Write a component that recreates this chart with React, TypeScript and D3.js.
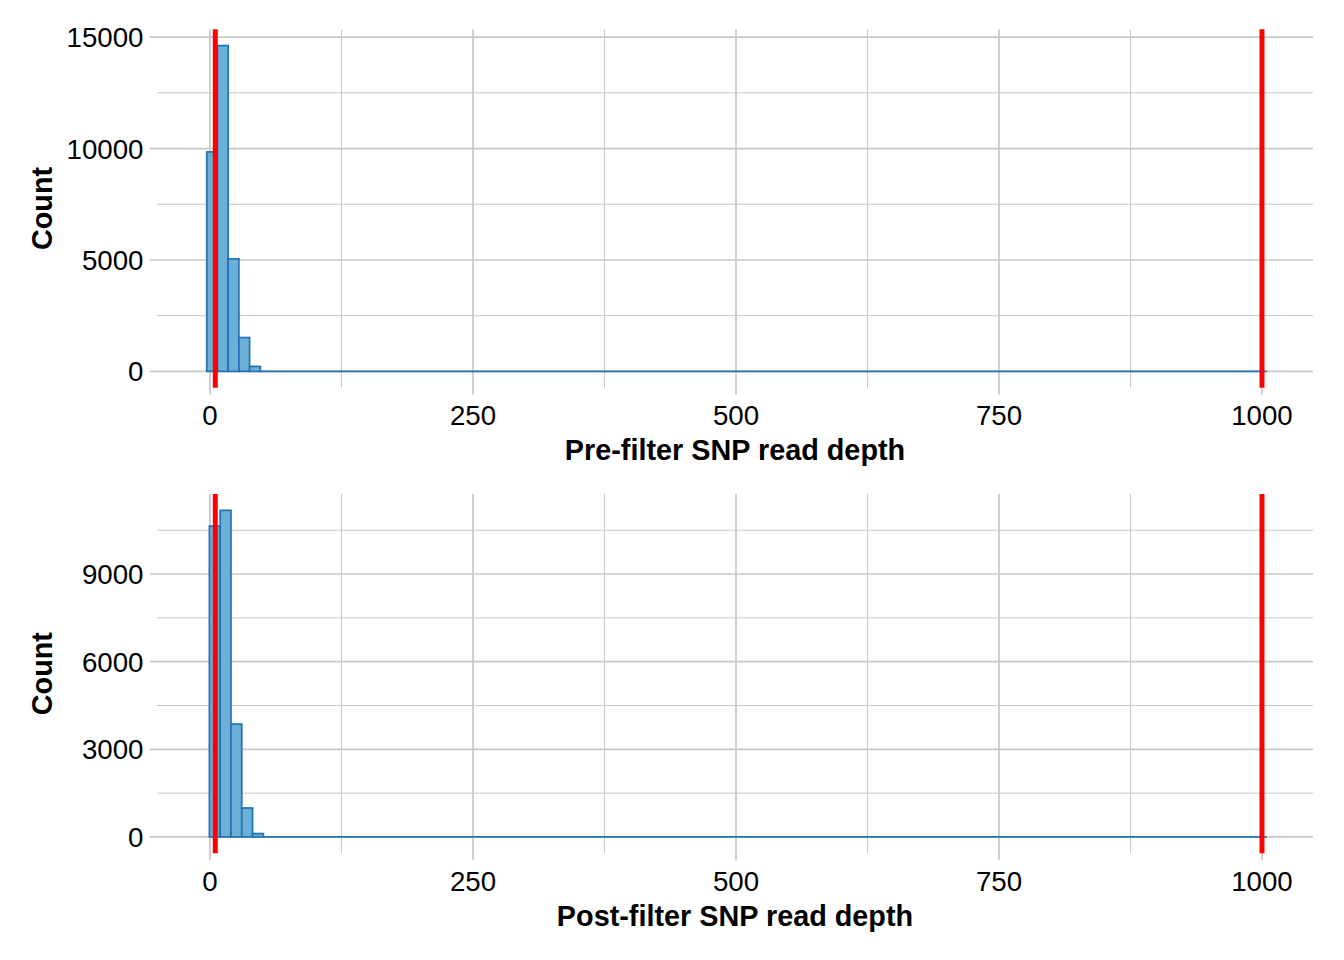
import React from "react";
import * as d3 from "d3";

// ---- Data ----
const preBinStart = -3.1;
const preBinWidth = 10.18;
const preCounts = [9850, 14620, 5050, 1520, 225];
const postBinStart = -0.6;
const postBinWidth = 10.26;
const postCounts = [10640, 11180, 3866, 992, 116];
const zeroBinsEnd = 1004.5; // zero-count bins continue to here
const cutoffs = [5, 1000];
const xMajorTicks = [0, 250, 500, 750, 1000];
const xMinorTicks = [125, 375, 625, 875];
const preYMajor = [0, 5000, 10000, 15000];
const preYMinor = [2500, 7500, 12500];
const postYMajor = [0, 3000, 6000, 9000];
const postYMinor = [1500, 4500, 7500, 10500];
const preTitle = "Pre-filter SNP read depth";
const postTitle = "Post-filter SNP read depth";
const yTitle = "Count";

const FONT = "'Liberation Sans', Arial, Helvetica, sans-serif";
const GRID = "#c8c8c8";
const FILL = "#6baed6";
const STROKE = "#2171b5";

const left = 157;
const right = 1313;
const x = d3.scaleLinear().domain([-50.4, 1048.5]).range([left, right]);

type PanelProps = {
  top: number;
  bottom: number;
  binStart: number;
  binWidth: number;
  counts: number[];
  yMajor: number[];
  yMinor: number[];
  title: string;
};

function Panel({ top, bottom, binStart, binWidth, counts, yMajor, yMinor, title }: PanelProps) {
  const maxC = d3.max(counts) as number;
  const y = d3.scaleLinear().domain([-0.05 * maxC, 1.05 * maxC]).range([bottom, top]);
  const lastEdge = binStart + counts.length * binWidth;
  const cy = (top + bottom) / 2;
  return (
    <g>
      {/* minor grid */}
      {yMinor.map((v) => (
        <line key={"ym" + v} x1={left} x2={right} y1={y(v)} y2={y(v)} stroke={GRID} strokeWidth={1} />
      ))}
      {xMinorTicks.map((v) => (
        <line key={"xm" + v} x1={x(v)} x2={x(v)} y1={top} y2={bottom} stroke={GRID} strokeWidth={1} />
      ))}
      {/* major grid */}
      {yMajor.map((v) => (
        <line key={"yM" + v} x1={left - 7} x2={right} y1={y(v)} y2={y(v)} stroke={GRID} strokeWidth={1.7} />
      ))}
      {xMajorTicks.map((v) => (
        <line key={"xM" + v} x1={x(v)} x2={x(v)} y1={top} y2={bottom + 7} stroke={GRID} strokeWidth={1.7} />
      ))}
      {/* zero-count bins */}
      <line x1={x(lastEdge)} x2={x(zeroBinsEnd)} y1={y(0)} y2={y(0)} stroke={STROKE} strokeWidth={1.7} />
      {/* bars */}
      {counts.map((c, i) => {
        const x0 = binStart + i * binWidth;
        const x1 = x0 + binWidth;
        return (
          <rect
            key={i}
            x={x(x0)}
            y={y(c)}
            width={x(x1) - x(x0)}
            height={y(0) - y(c)}
            fill={FILL}
            stroke={STROKE}
            strokeWidth={1.7}
          />
        );
      })}
      {/* cutoffs */}
      {cutoffs.map((v) => (
        <line key={"c" + v} x1={x(v)} x2={x(v)} y1={top} y2={bottom} stroke="#ff0000" strokeWidth={5} />
      ))}
      {/* y tick labels */}
      {yMajor.map((v) => (
        <text
          key={"yl" + v}
          x={143.5}
          y={y(v)}
          dy="0.36em"
          textAnchor="end"
          fontFamily={FONT}
          fontSize={27.7}
          fill="#000"
        >
          {v}
        </text>
      ))}
      {/* x tick labels */}
      {xMajorTicks.map((v) => (
        <text
          key={"xl" + v}
          x={x(v)}
          y={bottom + 37.3}
          textAnchor="middle"
          fontFamily={FONT}
          fontSize={27.7}
          fill="#000"
        >
          {v}
        </text>
      ))}
      {/* axis titles */}
      <text
        x={(left + right) / 2}
        y={bottom + 72.3}
        textAnchor="middle"
        fontFamily={FONT}
        fontSize={28.8}
        fontWeight="bold"
        fill="#000"
      >
        {title}
      </text>
      <text
        transform={`translate(52,${cy}) rotate(-90)`}
        textAnchor="middle"
        fontFamily={FONT}
        fontSize={28.8}
        fontWeight="bold"
        fill="#000"
      >
        {yTitle}
      </text>
    </g>
  );
}

export default function App() {
  return (
    <svg
      width={1344}
      height={960}
      style={{ position: "absolute", left: 0, top: 0, background: "#fff" }}
    >
      <rect x={0} y={0} width={1344} height={960} fill="#fff" />
      <Panel
        top={29.3}
        bottom={387.7}
        binStart={preBinStart}
        binWidth={preBinWidth}
        counts={preCounts}
        yMajor={preYMajor}
        yMinor={preYMinor}
        title={preTitle}
      />
      <Panel
        top={494}
        bottom={853.3}
        binStart={postBinStart}
        binWidth={postBinWidth}
        counts={postCounts}
        yMajor={postYMajor}
        yMinor={postYMinor}
        title={postTitle}
      />
    </svg>
  );
}
